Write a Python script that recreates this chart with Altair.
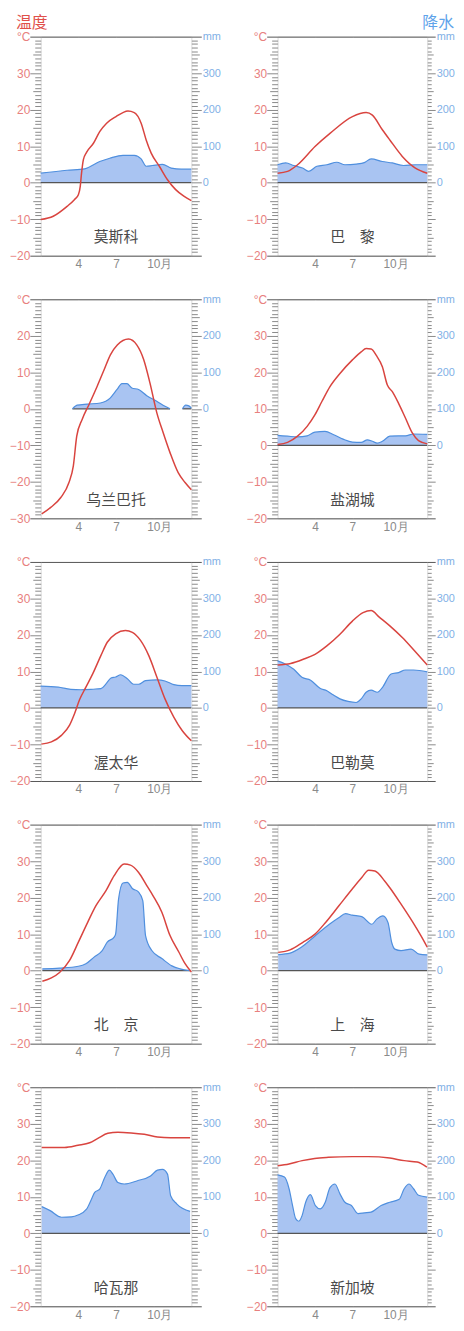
import altair as alt
import pandas as pd

NUMFONT = "Liberation Sans"
CJK = "Noto Sans CJK SC"

# ---- data: month position (1..13) and values ----
MOSCOW_TM = [1.0, 2.0, 3.1, 3.7, 4.0, 4.15, 4.25, 4.4, 4.65, 5.2, 5.7, 6.25, 7.0, 7.55, 7.95, 8.45, 9.0, 9.4, 9.8, 10.45, 11.1, 11.75, 12.4, 13.0]
MOSCOW_T = [-10.1, -9.2, -6.5, -4.6, -3.3, -1.0, 2.5, 6.3, 8.3, 10.8, 14.0, 16.3, 18.1, 19.2, 19.6, 19.2, 16.3, 11.7, 8.1, 4.5, 0.8, -1.9, -3.7, -4.9]
MOSCOW_PM = [1.0, 3.1, 4.5, 5.7, 6.5, 7.55, 8.45, 9.0, 9.4, 9.9, 10.7, 11.4, 12.2, 13.0]
MOSCOW_P = [26, 34, 38, 58, 67, 75, 75, 65, 45, 47, 50, 40, 37, 37]

PARIS_TM = [1, 1.8, 2.6, 4.0, 5.2, 7.0, 8.1, 8.6, 9.4, 10.0, 11.0, 12.05, 13]
PARIS_T = [2.6, 3.1, 4.9, 9.9, 13.5, 18.1, 19.2, 18.5, 14.5, 11.7, 7.2, 4.0, 2.6]
PARIS_PM = [1, 1.65, 2.3, 3.0, 3.5, 4.15, 4.95, 5.75, 6.4, 7.3, 7.95, 8.5, 9.4, 10.2, 11.1, 12.05, 13]
PARIS_P = [49, 54, 47, 40, 31, 45, 49, 56, 49, 51, 55, 65, 58, 54, 47, 49, 49]

UB_TM = [1.08, 1.8, 2.6, 3.25, 3.6, 3.87, 4.3, 4.85, 5.5, 6.05, 6.55, 7.1, 8.0, 8.65, 9.2, 9.7, 10.25, 10.75, 11.3, 11.95, 12.5, 13]
UB_T = [-28.8, -27, -24.3, -20.2, -15.6, -7.5, -2.9, 1.2, 6.2, 10.7, 14.8, 17.5, 19.1, 17.5, 13.5, 7.1, -1.1, -6.5, -12, -17.5, -20.2, -22.2]
UB_PM1 = [3.53, 3.9, 4.7, 5.75, 6.55, 7.08, 7.47, 7.87, 8.26, 8.8, 9.45, 10.24, 10.9, 11.3]
UB_P1 = [0, 10, 13, 16, 30, 53, 69, 69, 57, 53, 36, 21, 7, 0]
UB_PM2 = [12.29, 12.55, 12.8, 13.0]
UB_P2 = [0, 10, 8, 2]

SLC_TM = [1, 1.8, 2.6, 3.37, 4, 4.55, 5.2, 6, 7, 7.7, 8.1, 8.5, 8.9, 9.4, 9.8, 10.2, 10.7, 11.25, 11.8, 12.3, 13]
SLC_T = [0.2, 0.8, 2.5, 5.2, 8.4, 12, 16.1, 19.7, 23.4, 25.6, 26.5, 26.4, 24.7, 21.5, 16.5, 14.7, 11.5, 7.5, 3.4, 1.3, 0.4]
SLC_PM = [1, 1.8, 2.6, 3.37, 4, 4.8, 5.5, 6.25, 7, 7.7, 8.2, 8.6, 9.0, 9.4, 10, 10.7, 11.25, 11.9, 13]
SLC_P = [27, 25, 23, 26, 36, 38, 29, 17, 9, 8, 15, 11, 6, 11, 25, 26, 26, 31, 30]

OTT_TM = [1.05, 1.85, 2.65, 3.3, 3.7, 4.1, 4.6, 5.15, 5.8, 6.3, 6.97, 7.75, 8.3, 8.95, 9.6, 10.25, 10.9, 11.6, 12.25, 13]
OTT_T = [-9.9, -9.3, -7.5, -4.7, -1.5, 2.3, 5.7, 9.4, 14.4, 18, 20.3, 21.2, 20.7, 18.5, 14.4, 8.5, 2.5, -2.5, -6.1, -9.0]
OTT_PM = [1, 2.4, 3.4, 4.2, 5, 5.8, 6.2, 6.6, 6.97, 7.37, 7.9, 8.4, 8.8, 9.35, 10.25, 10.9, 11.6, 12.25, 13]
OTT_P = [60, 57, 51, 50, 51, 53, 66, 82, 85, 91, 80, 65, 65, 75, 77, 74, 64, 61, 61]

PAL_TM = [1, 2.05, 3.1, 4, 4.95, 6, 7, 7.85, 8.5, 9.15, 10, 11, 12.05, 13]
PAL_T = [11.8, 12.2, 13.4, 14.7, 17, 20.2, 23.8, 26.1, 26.7, 24.9, 22.5, 19.3, 15.4, 11.8]
PAL_PM = [1, 1.65, 2.3, 2.95, 3.65, 4.4, 4.95, 5.45, 6, 6.65, 7.3, 7.7, 8.1, 8.5, 9.0, 9.4, 10.1, 10.7, 11.25, 11.9, 13]
PAL_P = [129, 120, 106, 84, 76, 54, 47, 36, 25, 18, 15, 25, 43, 49, 43, 56, 93, 97, 104, 104, 99]

BJ_TM = [1.13, 1.85, 2.5, 3.3, 4, 4.75, 5.4, 6.2, 6.85, 7.65, 8.15, 8.8, 9.45, 9.95, 10.65, 11.3, 12.0, 12.5, 13]
BJ_T = [-2.9, -2, -0.5, 2.8, 7.8, 13.3, 17.8, 21.9, 26, 29.2, 28.9, 26.9, 23.3, 20.5, 16, 9.6, 5.1, 1.9, -0.4]
BJ_PM = [1.13, 2.5, 4, 4.6, 5.25, 5.9, 6.3, 6.85, 6.97, 7.2, 7.55, 7.9, 8.3, 8.8, 9.13, 9.35, 9.85, 10.65, 11.45, 12.1, 12.9]
BJ_P = [5, 7, 12, 19, 37, 55, 78, 92, 101, 196, 240, 242, 225, 215, 192, 96, 55, 33, 13, 5, 0]

SH_TM = [1.05, 2, 3, 4, 4.85, 5.9, 6.97, 7.75, 8.3, 8.8, 9.6, 10, 10.9, 11.85, 12.5, 13]
SH_T = [5, 5.7, 7.7, 10, 13.2, 17.7, 22.3, 25.5, 27.5, 27.3, 24.5, 22.7, 18.2, 13.2, 9.5, 6.4]
SH_PM = [1.05, 2, 2.9, 4, 5.15, 5.9, 6.45, 6.97, 7.75, 8.55, 8.95, 9.45, 9.85, 10.15, 10.4, 10.9, 11.7, 12.35, 13]
SH_P = [44, 48, 64, 95, 127, 145, 156, 152, 148, 127, 141, 150, 132, 77, 59, 55, 59, 45, 43]

HAV_TM = [1.08, 2.9, 3.97, 4.9, 5.55, 6.35, 7.15, 8.2, 9.25, 10.3, 11.35, 12.9]
HAV_T = [23.5, 23.5, 24.1, 24.8, 26, 27.4, 27.7, 27.5, 27.1, 26.4, 26.2, 26.2]
HAV_PM = [1.08, 1.75, 2.65, 3.45, 3.97, 4.65, 5.05, 5.3, 5.7, 6.1, 6.47, 6.75, 7.15, 7.65, 8.7, 9.75, 10.3, 10.7, 11.1, 11.35, 11.85, 12.9]
HAV_P = [73, 62, 44, 45, 50, 66, 94, 112, 121, 153, 173, 162, 139, 135, 144, 157, 173, 175, 162, 103, 80, 60]

SIN_TM = [1, 1.92, 2.97, 3.97, 5.08, 7, 8.25, 10, 11.15, 12.2, 12.97]
SIN_T = [18.5, 19, 19.9, 20.5, 20.8, 21, 21, 20.6, 19.9, 19.5, 18.1]
SIN_PM = [1, 1.55, 1.92, 2.2, 2.45, 2.7, 2.97, 3.25, 3.63, 4.03, 4.42, 4.82, 5.2, 5.6, 6, 6.4, 6.92, 7.45, 7.97, 8.5, 9.3, 10, 10.75, 11.15, 11.55, 11.9, 12.3, 13]
SIN_P = [160, 154, 122, 76, 40, 33, 49, 85, 106, 76, 67, 85, 125, 135, 108, 85, 76, 54, 56, 58, 76, 85, 93, 122, 135, 122, 104, 99]

MONTH_TICKS = [4, 7, 10]

RED = "#d9443f"
BLUE_LINE = "#4f8fde"
BLUE_FILL = "#a9c4f2"
DARK = "#555555"
H = 221


def panel(name, tm, tv, psegs, ymin, ymax, width, rmajor=10, rextent=30, head=None):
    xscale = alt.Scale(domain=[1, 13], nice=False, zero=False)
    xaxis = alt.Axis(values=MONTH_TICKS, grid=True, gridColor="white", gridWidth=1.2,
                     ticks=False, domain=False, title=None,
                     labelExpr="datum.value == 10 ? '10月' : datum.label",
                     labelAlign={"condition": {"test": "datum.value == 10", "value": "left"}, "value": "center"},
                     labelOffset={"condition": {"test": "datum.value == 10", "value": -7}, "value": 0},
                     labelFont=NUMFONT, labelFontSize=12, labelColor="#8a8a8a",
                     labelPadding=3, minExtent=15, maxExtent=15)
    border = f"datum.value == {ymin} || datum.value == {ymax}"
    laxis = alt.Axis(orient="left", values=list(range(ymin, ymax + 1)), title=None, domain=False,
                     grid=True,
                     gridColor={"condition": {"test": border, "value": DARK}, "value": "white"},
                     gridOpacity={"condition": {"test": "datum.value % 10 == 0", "value": 1}, "value": 0},
                     gridDash={"condition": {"test": border, "value": []}, "value": [4, 2]},
                     gridWidth=1,
                     tickSize={"condition": [{"test": "datum.value % 10 == 0", "value": 11},
                                             {"test": "datum.value % 5 == 0", "value": 8}], "value": 6},
                     tickColor={"condition": {"test": border, "value": DARK}, "value": "#8a8a8a"},
                     tickWidth=1,
                     labelExpr=f"datum.value == {ymax} ? '°C' : (datum.value % 10 == 0 ? datum.label : '')",
                     labelColor="#e8807e", labelFont=NUMFONT, labelFontSize=12, labelPadding=0,
                     labelOverlap=False, labelFlush=False, minExtent=32, maxExtent=32)
    pmin, pmax = ymin * 10, ymax * 10
    pborder = f"datum.value == {pmin} || datum.value == {pmax}"
    raxis = alt.Axis(orient="right", values=list(range(pmin, pmax + 1, 10)), title=None, domain=False,
                     grid=False,
                     tickSize={"condition": [{"test": "datum.value % 100 == 0", "value": rmajor},
                                             {"test": "datum.value % 50 == 0", "value": rmajor - 2}],
                               "value": rmajor - 4},
                     tickColor={"condition": {"test": pborder, "value": DARK}, "value": "#8a8a8a"},
                     tickWidth=1,
                     labelExpr=f"datum.value == {pmax} ? 'mm' : (datum.value >= 0 && datum.value % 100 == 0 ? datum.label : '')",
                     labelColor="#7fb0e6", labelFont=NUMFONT, labelFontSize=11, labelPadding=1,
                     labelOverlap=False, labelFlush=False, minExtent=rextent, maxExtent=rextent)

    tdf = pd.DataFrame({"m": tm, "t": tv})
    rows = []
    for i, (pm, pv) in enumerate(psegs):
        for a, b in zip(pm, pv):
            rows.append({"m": a, "p": b, "seg": i})
    pdf = pd.DataFrame(rows)

    X = alt.X("m:Q", scale=xscale, axis=xaxis)
    tscale = alt.Scale(domain=[ymin, ymax], nice=False, zero=False)
    pscale = alt.Scale(domain=[pmin, pmax], nice=False, zero=False)

    area = alt.Chart(pdf).mark_area(interpolate="monotone", color=BLUE_FILL, opacity=1).encode(
        x=X, y=alt.Y("p:Q", scale=pscale, axis=raxis), detail="seg:N")
    base = alt.Chart(pdf).mark_line(color=DARK, strokeWidth=1.3).encode(
        x=X, y=alt.YDatum(0, scale=pscale, axis=raxis), detail="seg:N")
    pline = alt.Chart(pdf).mark_line(interpolate="monotone", color=BLUE_LINE, strokeWidth=1.2).encode(
        x=X, y=alt.Y("p:Q", scale=pscale, axis=raxis), detail="seg:N")
    right = alt.layer(area, base, pline)

    tline = alt.Chart(tdf).mark_line(interpolate="monotone", color=RED, strokeWidth=1.5).encode(
        x=X, y=alt.Y("t:Q", scale=tscale, axis=laxis))
    label = alt.Chart(pd.DataFrame({"name": [name]})).mark_text(
        font=CJK, fontSize=15, color="#4a4a4a", baseline="middle").encode(
        x=alt.XDatum(7, scale=xscale, axis=xaxis),
        y=alt.YDatum(ymin + 5, scale=tscale, axis=laxis),
        text="name:N")
    layers = [tline, label]
    if head is not None:
        text, color, align, hx = head
        layers.append(alt.Chart(pd.DataFrame({"h": [text]})).mark_text(
            font=CJK, fontSize=16, color=color, align=align, baseline="middle").encode(
            x=alt.value(hx), y=alt.value(-14), text="h:N"))
    left = alt.layer(*layers)

    return alt.layer(right, left).resolve_scale(y="independent").properties(width=width, height=H)


WL, WR = 152, 151
HEAD_L = ("温度", "#e0504a", "left", -25)
HEAD_R = ("降水", "#5ea3ea", "right", WR + 27)

rows = [
    (panel("莫斯科", MOSCOW_TM, MOSCOW_T, [(MOSCOW_PM, MOSCOW_P)], -20, 40, WL, head=HEAD_L),
     panel("巴　黎", PARIS_TM, PARIS_T, [(PARIS_PM, PARIS_P)], -20, 40, WR, rmajor=8, rextent=28, head=HEAD_R)),
    (panel("乌兰巴托", UB_TM, UB_T, [(UB_PM1, UB_P1), (UB_PM2, UB_P2)], -30, 30, WL),
     panel("盐湖城", SLC_TM, SLC_T, [(SLC_PM, SLC_P)], -20, 40, WR, rmajor=8, rextent=28)),
    (panel("渥太华", OTT_TM, OTT_T, [(OTT_PM, OTT_P)], -20, 40, WL),
     panel("巴勒莫", PAL_TM, PAL_T, [(PAL_PM, PAL_P)], -20, 40, WR, rmajor=8, rextent=28)),
    (panel("北　京", BJ_TM, BJ_T, [(BJ_PM, BJ_P)], -20, 40, WL),
     panel("上　海", SH_TM, SH_T, [(SH_PM, SH_P)], -20, 40, WR, rmajor=8, rextent=28)),
    (panel("哈瓦那", HAV_TM, HAV_T, [(HAV_PM, HAV_P)], -20, 40, WL),
     panel("新加坡", SIN_TM, SIN_T, [(SIN_PM, SIN_P)], -20, 40, WR, rmajor=8, rextent=28)),
]

chart = alt.vconcat(*[alt.hconcat(a, b, spacing=23) for a, b in rows], spacing=21).properties(
    padding=0
).configure_view(fill="#c8ccda", strokeWidth=0).configure(background="white")

chart.save("out.html", embed_options={"renderer": "svg", "actions": False})
